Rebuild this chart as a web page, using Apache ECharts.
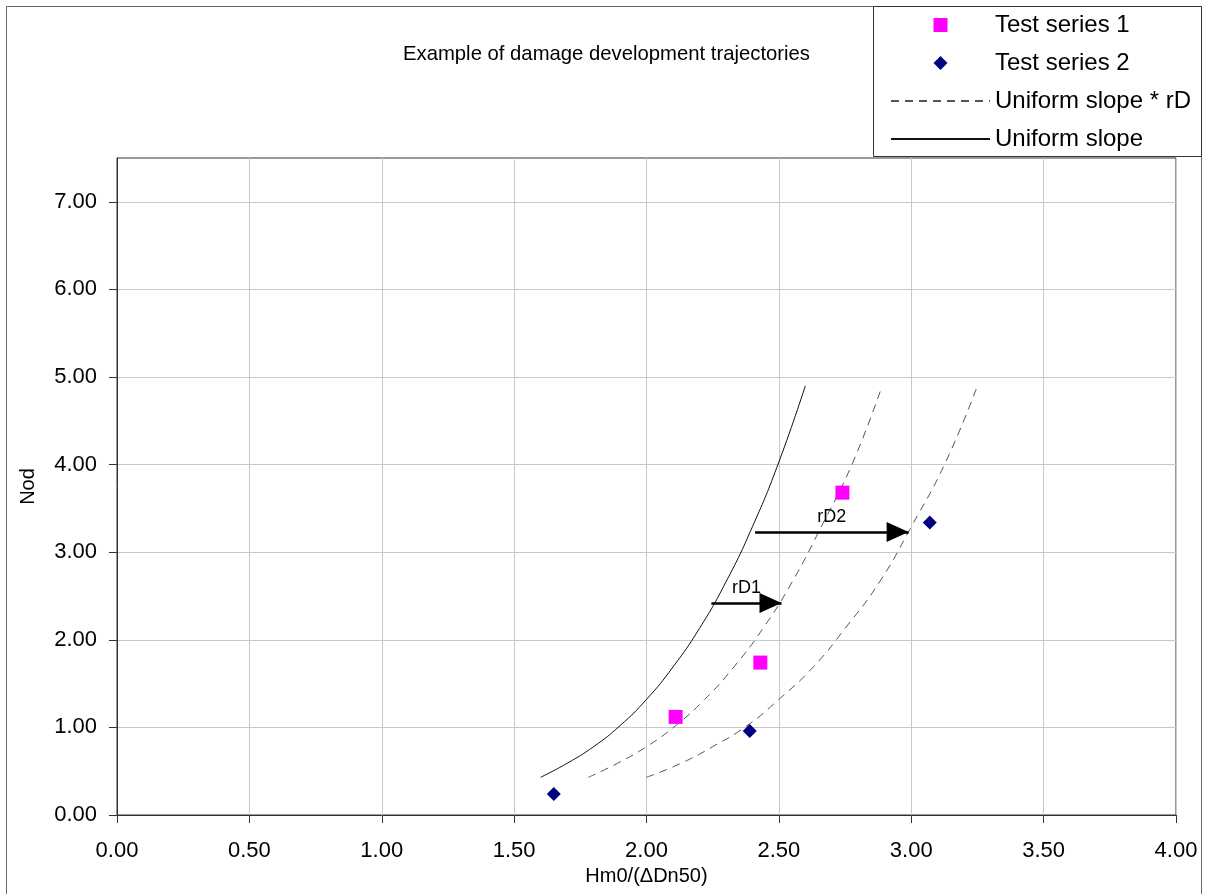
<!DOCTYPE html>
<html>
<head>
<meta charset="utf-8">
<script src="https://cdn.jsdelivr.net/npm/echarts@6/dist/echarts.min.js"></script>
<style>
    html, body { margin: 0; padding: 0; background: #fff; }
    #chart { width: 1205px; height: 894px; }
</style>
</head>
<body>
<div id="chart"></div>
<script>
// 测试点
var series1 = [[2.11, 1.12], [2.43, 1.74], [2.74, 3.68]];
var series2 = [[1.65, 0.24], [2.39, 0.96], [3.07, 3.34]];

// 曲线
var uniformX = [1.60, 1.70, 1.80, 1.90, 2.00, 2.10, 2.20, 2.30, 2.40, 2.50, 2.60];
var uniformY = [0.43, 0.59, 0.78, 1.02, 1.32, 1.69, 2.13, 2.66, 3.29, 4.03, 4.90];
var rd1X = [1.78, 1.89, 2.00, 2.11, 2.22, 2.33, 2.44, 2.55, 2.66, 2.78, 2.89];
var rd1Y = [0.43, 0.59, 0.78, 1.02, 1.32, 1.69, 2.13, 2.66, 3.29, 4.03, 4.90];
var rd2X = [2.00, 2.13, 2.25, 2.38, 2.50, 2.63, 2.75, 2.88, 3.00, 3.13, 3.25];
var rd2Y = [0.43, 0.59, 0.78, 1.02, 1.32, 1.69, 2.13, 2.66, 3.29, 4.03, 4.90];

// 箭头
var arrow1 = [[2.245, 2.42], [2.51, 2.42]];
var arrow2 = [[2.41, 3.23], [2.99, 3.23]];

var yTicks = [0, 1, 2, 3, 4, 5, 6, 7];

function pairs(xs, ys) {
    return xs.map(function (x, i) { return [x, ys[i]]; });
}

// 箭头头部: 尖端位于图形中心
var arrowHead = 'path://M0,22L10,44L-10,44Z M0,0L0,0';

var font = '"Liberation Sans", Arial, sans-serif';
var myChart = echarts.init(document.getElementById('chart'));

var option = {
    backgroundColor: '#ffffff',
    animation: false,
    title: {
        text: 'Example of damage development trajectories',
        left: 398,
        top: 39,
        textStyle: { fontFamily: font, fontSize: 20.3, fontWeight: 'normal', color: '#000' }
    },
    graphic: [
        {
            type: 'rect',
            shape: { x: 6.5, y: 6.5, width: 1195, height: 900 },
            style: { fill: 'none', stroke: '#666', lineWidth: 1 },
            silent: true
        },
        {
            type: 'rect',
            shape: { x: 873.5, y: 6.5, width: 328, height: 150 },
            style: { fill: '#fff', stroke: '#333', lineWidth: 1 },
            silent: true,
            z: 0
        }
    ],
    legend: {
        orient: 'vertical',
        left: 890,
        top: 13,
        padding: 0,
        itemWidth: 99,
        itemHeight: 14,
        itemGap: 14,
        symbolKeepAspect: true,
        selectedMode: false,
        textStyle: { fontFamily: font, fontSize: 24, color: '#000' },
        data: [
            { name: 'Test series 1', icon: 'path://M0,0L1,0L1,1L0,1Z' },
            { name: 'Test series 2', icon: 'path://M0.5,0L1,0.5L0.5,1L0,0.5Z' },
            { name: 'Uniform slope * rD', itemStyle: { opacity: 0 } },
            { name: 'Uniform slope', itemStyle: { opacity: 0 } }
        ],
        z: 10
    },
    grid: {
        left: 117,
        right: 29,
        top: 158,
        bottom: 79,
        show: true,
        borderColor: '#333',
        borderWidth: 1
    },
    xAxis: {
        type: 'value',
        min: 0,
        max: 4,
        interval: 0.5,
        name: 'Hm0/(\u0394Dn50)',
        nameLocation: 'middle',
        nameGap: 51,
        nameTextStyle: { fontFamily: font, fontSize: 20, color: '#000' },
        axisLine: { show: true, lineStyle: { color: '#333', width: 1 } },
        axisTick: { show: true, inside: false, length: 8, lineStyle: { color: '#333' } },
        axisLabel: {
            margin: 25,
            fontFamily: font,
            fontSize: 22,
            color: '#000',
            formatter: function (v) { return v.toFixed(2); }
        },
        splitLine: { show: true, lineStyle: { color: '#c8c8c8', width: 1 } }
    },
    yAxis: {
        type: 'value',
        min: 0,
        max: 7.5,
        interval: 1,
        name: 'Nod',
        nameLocation: 'middle',
        nameGap: 79,
        nameRotate: 90,
        nameTextStyle: { fontFamily: font, fontSize: 20, color: '#000' },
        axisLine: { show: true, lineStyle: { color: '#333', width: 1 } },
        axisTick: { show: true, inside: false, length: 8, lineStyle: { color: '#333' }, customValues: yTicks },
        axisLabel: {
            margin: 20,
            fontFamily: font,
            fontSize: 22,
            color: '#000',
            customValues: yTicks,
            formatter: function (v) { return v.toFixed(2); }
        },
        splitLine: { show: true, lineStyle: { color: '#c8c8c8', width: 1 } }
    },
    series: [
        {
            name: 'Test series 1',
            type: 'scatter',
            symbol: 'rect',
            symbolSize: 14,
            itemStyle: { color: '#ff00ff', opacity: 1 },
            data: series1,
            z: 5
        },
        {
            name: 'Test series 2',
            type: 'scatter',
            symbol: 'diamond',
            symbolSize: 14,
            itemStyle: { color: '#000080', opacity: 1 },
            data: series2,
            z: 5
        },
        {
            name: 'Uniform slope * rD',
            type: 'line',
            smooth: true,
            symbol: 'none',
            itemStyle: { color: '#555' },
            lineStyle: { color: '#555', width: 1, type: [8, 6] },
            data: pairs(rd1X, rd1Y)
        },
        {
            name: 'Uniform slope * rD',
            type: 'line',
            smooth: true,
            symbol: 'none',
            itemStyle: { color: '#555' },
            lineStyle: { color: '#555', width: 1, type: [8, 6] },
            data: pairs(rd2X, rd2Y)
        },
        {
            name: 'Uniform slope',
            type: 'line',
            smooth: true,
            symbol: 'none',
            itemStyle: { color: '#111' },
            lineStyle: { color: '#111', width: 1 },
            data: pairs(uniformX, uniformY),
            markLine: {
                silent: true,
                symbol: ['none', arrowHead],
                symbolSize: [20, 44],
                symbolKeepAspect: false,
                lineStyle: { color: '#000', width: 2.5, type: 'solid' },
                label: {
                    show: true,
                    position: 'middle',
                    distance: 6,
                    fontFamily: font,
                    fontSize: 18,
                    color: '#000'
                },
                data: [
                    [{ coord: arrow1[0], name: 'rD1', label: { formatter: 'rD1' } }, { coord: arrow1[1] }],
                    [{ coord: arrow2[0], name: 'rD2', label: { formatter: 'rD2' } }, { coord: arrow2[1] }]
                ]
            }
        }
    ]
};

myChart.setOption(option);
</script>
</body>
</html>
